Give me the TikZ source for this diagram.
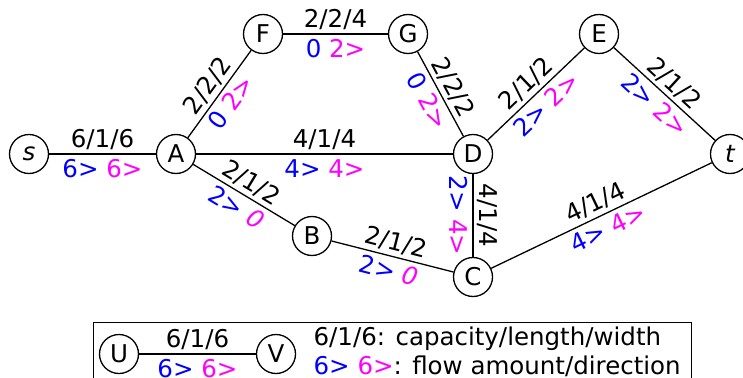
\documentclass[tikz,border=0pt]{standalone}
\usepackage{fontspec}
\setmainfont{DejaVu Sans}
\definecolor{flowblue}{RGB}{0,0,255}
\definecolor{flowmag}{RGB}{255,0,255}
\newcommand\labfont{\fontsize{24.5}{28}\selectfont}
\newcommand\fb[1]{\textcolor{flowblue}{#1}}
\newcommand\fm[1]{\textcolor{flowmag}{#1}}
\begin{document}
\begin{tikzpicture}[x=1pt,y=-1pt,line width=1.3pt,
  vtx/.style={circle,draw,fill=white,minimum size=39pt,inner sep=0pt,font=\labfont},
  caplabel/.style={sloped,above=5.5pt,inner sep=0pt,text depth=0pt,font=\labfont},
  flowlabel/.style={sloped,below=5.5pt,inner sep=0pt,text height=17pt,text depth=0pt,font=\labfont},
  legtext/.style={anchor=base west,inner sep=0pt,font=\labfont}]
\useasboundingbox (0,0) rectangle (743,377);
\node[vtx] (s) at (29,154) {\itshape s};
\node[vtx] (A) at (176,154) {A};
\node[vtx] (F) at (263,34) {F};
\node[vtx] (G) at (408,34) {G};
\node[vtx] (D) at (473,154) {D};
\node[vtx] (E) at (599,34) {E};
\node[vtx] (t) at (730,154) {\itshape t};
\node[vtx] (B) at (312,236) {B};
\node[vtx] (C) at (473,277) {C};
\draw (s) -- node[caplabel]{6/1/6} node[flowlabel]{\fb{6>} \fm{6>}} (A);
\draw (A) -- node[caplabel]{2/2/2} node[flowlabel]{\fb{0} \fm{2>}} (F);
\draw (F) -- node[caplabel]{2/2/4} node[flowlabel]{\fb{0} \fm{2>}} (G);
\draw (G) -- node[caplabel]{2/2/2} node[flowlabel]{\fb{0} \fm{2>}} (D);
\draw (A) -- node[caplabel]{4/1/4} node[flowlabel]{\fb{4>} \fm{4>}} (D);
\draw (A) -- node[caplabel]{2/1/2} node[flowlabel]{\fb{2>} \fm{\itshape 0}} (B);
\draw (B) -- node[caplabel]{2/1/2} node[flowlabel]{\fb{2>} \fm{\itshape 0}} (C);
\draw (D) -- node[caplabel]{4/1/4} node[flowlabel]{\fb{2>} \fm{4>}} (C);
\draw (D) -- node[caplabel]{2/1/2} node[flowlabel]{\fb{2>} \fm{2>}} (E);
\draw (E) -- node[caplabel]{2/1/2} node[flowlabel]{\fb{2>} \fm{2>}} (t);
\draw (C) -- node[caplabel]{4/1/4} node[flowlabel]{\fb{4>} \fm{4>}} (t);
% legend
\draw[line width=0.8pt] (93,322) rectangle (691,400);
\node[vtx] (U) at (119,354) {U};
\node[vtx] (V) at (276,354) {V};
\draw (U) -- node[caplabel]{6/1/6} node[flowlabel]{\fb{6>} \fm{6>}} (V);
\node[legtext] (l1) at (313,345) {6/1/6: capacity/length/width};
\node[legtext] (l2) at (313,374) {\fb{6>} \fm{6>}: flow amount/direction};
\end{tikzpicture}
\end{document}
